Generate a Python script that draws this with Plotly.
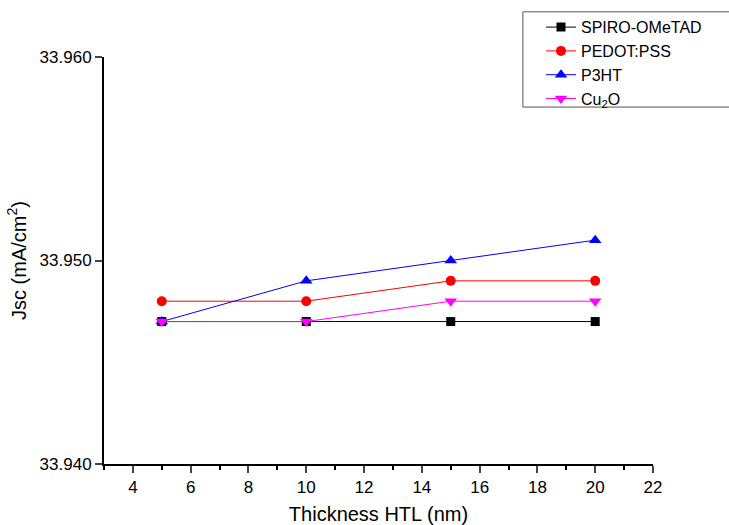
import plotly.graph_objects as go

# Jsc versus HTL thickness for four hole-transport materials
thickness = [5, 10, 15, 20]
spiro = [33.947, 33.947, 33.947, 33.947]
pedot = [33.948, 33.948, 33.949, 33.949]
p3ht = [33.947, 33.949, 33.950, 33.951]
cu2o = [33.947, 33.947, 33.948, 33.948]

x_ticks = [4, 6, 8, 10, 12, 14, 16, 18, 20, 22]
y_ticks = [33.940, 33.950, 33.960]

series = [
    ("SPIRO-OMeTAD", spiro, "#000000", "square", 9),
    ("PEDOT:PSS", pedot, "#ff0000", "circle", 10),
    ("P3HT", p3ht, "#0000ff", "triangle-up", 11),
    ("Cu<sub>2</sub>O", cu2o, "#ff00ff", "triangle-down", 11),
]

fig = go.Figure()
for name, vals, color, symbol, size in series:
    fig.add_trace(go.Scatter(
        x=thickness, y=vals, name=name, mode="lines+markers",
        line=dict(color=color, width=1),
        marker=dict(symbol=symbol, size=size, color=color),
    ))

# frame around the legend, running off the right edge of the page
fig.add_shape(
    type="rect", xref="paper", yref="paper",
    x0=0.763, x1=1.16, y0=0.877, y1=1.111,
    line=dict(color="#555555", width=1), fillcolor="rgba(0,0,0,0)",
)

font = "Liberation Sans, Arial, sans-serif"
fig.update_layout(
    width=729, height=525,
    margin=dict(l=104, r=76, t=57, b=61, autoexpand=False),
    paper_bgcolor="white", plot_bgcolor="white",
    font=dict(family=font, size=16, color="black"),
    showlegend=True,
    legend=dict(
        x=0.796, y=1.115, xanchor="left", yanchor="top",
        bgcolor="rgba(0,0,0,0)", borderwidth=0,
        font=dict(size=16), tracegroupgap=0, itemsizing="trace",
    ),
    xaxis=dict(
        range=[3, 22], tickvals=x_ticks, ticks="outside", ticklen=7, tickwidth=2,
        showline=True, linecolor="black", linewidth=2, showgrid=False, zeroline=False,
        minor=dict(dtick=1, ticks="outside", ticklen=4, tickwidth=2, tickcolor="black"),
        title=dict(text="Thickness HTL (nm)", font=dict(size=20), standoff=12),
        tickfont=dict(size=17), automargin=False,
    ),
    yaxis=dict(
        range=[33.940, 33.960], tickvals=y_ticks, tickformat=".3f",
        ticks="outside", ticklen=7, tickwidth=2,
        showline=True, linecolor="black", linewidth=2, showgrid=False, zeroline=False,
        title=dict(text="Jsc (mA/cm<sup>2</sup>)", font=dict(size=20), standoff=8),
        tickfont=dict(size=17), automargin=False,
    ),
)

fig.write_html("out.html")
